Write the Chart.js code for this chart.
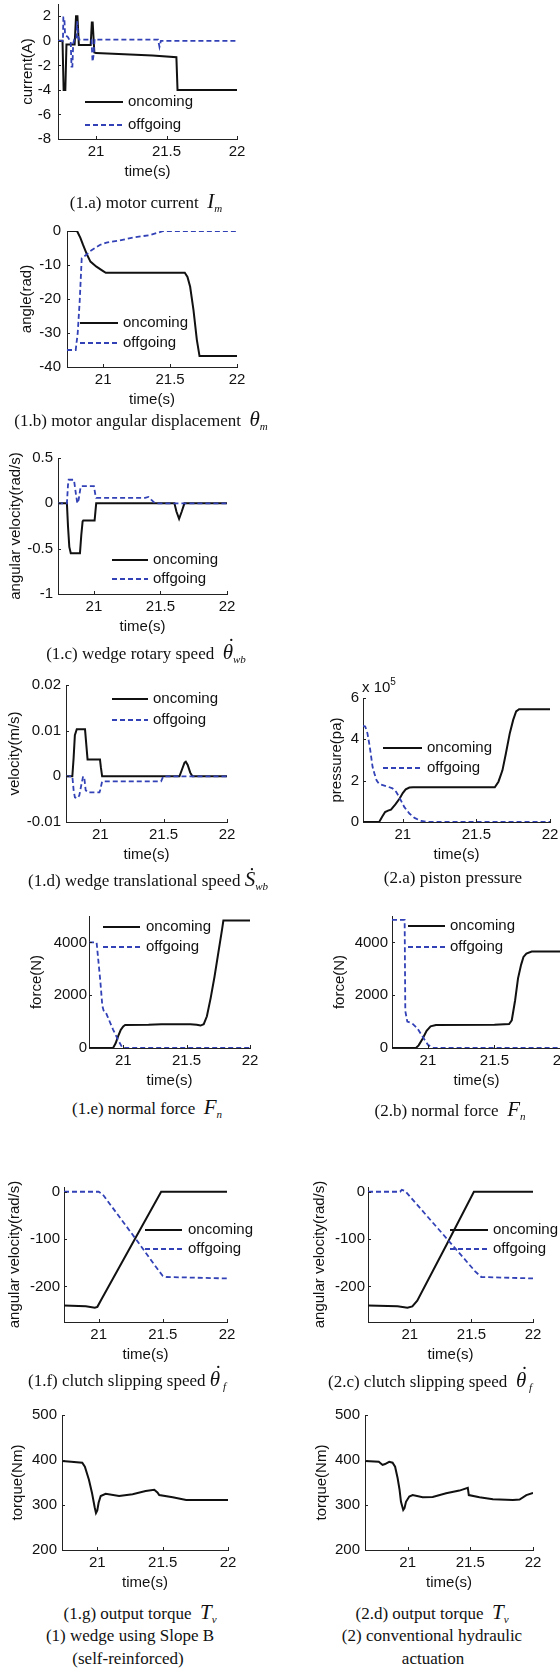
<!DOCTYPE html>
<html>
<head>
<meta charset="utf-8">
<script src="https://cdn.jsdelivr.net/npm/chart.js@4.4.1/dist/chart.umd.min.js"></script>
<style>
html, body { margin: 0; padding: 0; background: #fff; overflow: hidden; width: 560px; height: 1670px; }
#page { position: relative; width: 560px; height: 1670px; overflow: hidden; }
canvas { position: absolute; }
.cap { position: absolute; font-family: "Liberation Serif", "Times New Roman", serif; font-size: 17px; color: #111;
       white-space: nowrap; transform: translate(-50%, -50%); line-height: 1; }
.cap i { font-size: 21px; }
.cap sub { font-size: 11px; font-style: italic; vertical-align: -4px; }
.cap .dt { position: relative; display: inline-block; }
.cap .dt::after { content: "\02D9"; position: absolute; left: 0.24em; top: -0.3em; font-style: normal; }
.exp { position: absolute; font-family: "Liberation Sans", Arial, sans-serif; font-size: 15px; color: #111; white-space: nowrap; }
.exp sup { font-size: 10px; vertical-align: 7px; }
</style>
</head>
<body>
<div id="page"></div>
<script>
// ---- data (time in s) ----
const xTicks = [21, 21.5, 22];

// (1.a) motor current, A
const currentOn = [[20.73,0],[20.762,0],[20.77,-4],[20.782,-4],[20.79,-0.3],[20.848,-0.3],[20.858,2],[20.868,2],[20.878,-0.35],[20.962,-0.35],[20.97,1.5],[20.976,1.5],[20.988,-0.95],[21.0,-1.0],[21.2,-1.1],[21.4,-1.2],[21.57,-1.33],[21.578,-4],[22,-4]];
const currentOff = [[20.73,0],[20.765,0],[20.768,1.9],[20.775,1.9],[20.78,0.5],[20.8,0.3],[20.81,0.1],[20.82,0],[20.826,-2.1],[20.832,-2.1],[20.838,-0.2],[20.845,0.1],[20.86,0.1],[20.866,1.6],[20.872,0.4],[20.88,0.1],[20.968,0.1],[20.975,-1.7],[20.982,-1.2],[20.99,0.15],[21.0,0.1],[21.44,0.1],[21.45,-0.5],[21.46,0],[22,0]];
const currentTicks = [-8, -6, -4, -2, 0, 2];

// (1.b) motor angular displacement, rad
const angleOn = [[20.73,0],[20.805,0],[20.83,-2],[20.85,-4.1],[20.88,-7],[20.905,-9],[20.95,-10.5],[21.0,-11.8],[21.02,-12.3],[21.61,-12.3],[21.63,-13.5],[21.65,-16.4],[21.675,-23.3],[21.7,-32],[21.72,-36.8],[22,-36.8]];
const angleOff = [[20.73,-35],[20.795,-35],[20.81,-30],[20.825,-20.5],[20.84,-8],[20.875,-7],[20.9,-6],[20.975,-4.1],[21.025,-3.4],[21.125,-2.8],[21.225,-1.9],[21.35,-1.2],[21.45,0],[22,0]];
const angleTicks = [-40, -30, -20, -10, 0];

// (1.c) wedge rotary speed, rad/s
const rotOn = [[20.73,0],[20.797,0],[20.805,-0.25],[20.815,-0.48],[20.826,-0.55],[20.895,-0.55],[20.905,-0.35],[20.915,-0.2],[20.92,-0.19],[21.005,-0.19],[21.017,0],[21.605,0],[21.62,-0.09],[21.64,-0.17],[21.66,-0.09],[21.68,0],[22,0]];
const rotOff = [[20.73,0],[20.797,0],[20.805,0.2],[20.81,0.26],[20.85,0.26],[20.865,0.1],[20.875,0],[20.885,0.04],[20.9,0.18],[20.907,0.19],[21.0,0.19],[21.01,0.1],[21.017,0.06],[21.385,0.06],[21.41,0.07],[21.43,0.04],[21.46,0],[22,0]];
const rotTicks = [-1, -0.5, 0, 0.5];

// (1.d) wedge translational speed, m/s
const velOn = [[20.73,0],[20.78,0],[20.79,0.004],[20.8,0.009],[20.815,0.0103],[20.88,0.0103],[20.89,0.007],[20.9,0.0037],[20.998,0.0037],[21.005,0.002],[21.015,0],[21.625,0],[21.645,0.0015],[21.665,0.003],[21.675,0.0032],[21.69,0.0025],[21.71,0.0008],[21.727,0],[22,0]];
const velOff = [[20.73,0],[20.78,0],[20.79,-0.003],[20.8,-0.0046],[20.82,-0.0048],[20.835,-0.0042],[20.85,-0.002],[20.865,0],[20.875,-0.0005],[20.885,-0.003],[20.9,-0.0035],[20.994,-0.0035],[21.0,-0.003],[21.015,-0.0011],[21.48,-0.0011],[21.497,0],[22,0]];
const velTicks = [-0.01, 0, 0.01, 0.02];

// (2.a) piston pressure, x 10^5 Pa
const presOn = [[20.73,0],[20.84,0],[20.86,0.25],[20.88,0.48],[20.9,0.55],[20.92,0.6],[20.95,0.85],[20.98,1.15],[21.0,1.4],[21.02,1.58],[21.045,1.67],[21.07,1.68],[21.625,1.68],[21.65,1.95],[21.677,2.5],[21.7,3.3],[21.727,4.3],[21.75,4.94],[21.77,5.35],[21.79,5.46],[22,5.46]];
const presOff = [[20.73,4.65],[20.745,4.62],[20.76,4.3],[20.776,3.64],[20.795,2.67],[20.807,2.36],[20.823,2.0],[20.84,1.84],[20.886,1.74],[20.93,1.63],[20.955,1.46],[20.977,1.19],[21.01,0.73],[21.045,0.41],[21.08,0.2],[21.125,0.05],[21.16,0.01],[22,0.01]];
const presTicks = [0, 2, 4, 6];

// (1.e) normal force, N
const forceOn = [[20.73,0],[20.92,0],[20.94,180],[20.96,450],[20.98,680],[21.0,820],[21.015,870],[21.2,880],[21.3,900],[21.53,900],[21.58,880],[21.61,850],[21.635,900],[21.66,1200],[21.69,1900],[21.72,2700],[21.75,3600],[21.78,4500],[21.79,4830],[22,4830]];
const forceOff = [[20.73,4000],[20.79,4000],[20.8,3500],[20.82,2500],[20.835,1600],[20.845,1420],[20.86,1380],[20.88,1150],[20.92,700],[20.96,300],[20.99,40],[21.0,0],[22,0]];
// (2.b) normal force, N
const force2On = [[20.73,0],[20.91,0],[20.93,100],[20.96,350],[20.99,650],[21.02,820],[21.06,870],[21.5,880],[21.61,910],[21.63,1050],[21.655,1800],[21.677,2640],[21.7,3150],[21.718,3450],[21.74,3580],[21.78,3655],[22,3655]];
const force2Off = [[20.73,4850],[20.825,4850],[20.83,1400],[20.845,1000],[20.88,940],[20.92,750],[20.97,350],[21.0,120],[21.04,0],[22,0]];
const forceTicks = [0, 2000, 4000];

// (1.f) / (2.c) clutch slipping speed, rad/s
const slipOn = [[20.73,-240],[20.9,-242],[20.97,-245],[20.99,-243],[21.02,-228],[21.29,-96],[21.487,0],[22,0]];
const slipOff = [[20.73,0],[21.0,0],[21.03,-5],[21.29,-100],[21.45,-160],[21.5,-178],[21.53,-180],[22,-183]];
const slip2On = [[20.66,-240],[20.9,-242],[20.98,-245],[21.02,-242],[21.06,-230],[21.3,-111],[21.52,0],[22,0]];
const slip2Off = [[20.66,0],[20.92,0],[20.935,4],[20.96,2],[21.0,-10],[21.3,-99],[21.53,-168],[21.58,-180],[22,-183]];
const slipTicks = [-200, -100, 0];

// (1.g) / (2.d) output torque, Nm
const torqueOn = [[20.73,398],[20.8,396],[20.885,394],[20.905,385],[20.936,356],[20.96,326],[20.98,295],[20.99,282],[21.0,288],[21.01,305],[21.026,320],[21.064,325],[21.167,320],[21.27,324],[21.37,331],[21.436,334],[21.46,328],[21.474,322],[21.577,317],[21.68,311],[22,311]];
const torque2On = [[20.66,398],[20.77,396],[20.8,389],[20.82,391],[20.853,396],[20.88,394],[20.9,385],[20.92,360],[20.935,335],[20.947,307],[20.965,289],[20.975,293],[20.987,307],[21.013,319],[21.04,322],[21.12,317],[21.2,318],[21.307,326],[21.413,332],[21.48,338],[21.488,322],[21.573,317],[21.68,313],[21.84,311],[21.893,312],[21.947,322],[22,327]];
const torqueTicks = [200, 300, 400, 500];

// ---- drawing ----
Chart.defaults.font.family = '"Liberation Sans", Arial, sans-serif';
Chart.defaults.font.size = 15;
Chart.defaults.color = '#111';

const ON_COLOR = '#111111';
const OFF_COLOR = '#3242b6';
const PAD_TOP = 18, PAD_RIGHT = 45, XBOX = 45;
const page = document.getElementById('page');

function toXY(pairs) {
  return pairs.map(p => ({x: p[0], y: p[1]}));
}

// small inward tick marks like matlab
const innerTicks = {
  id: 'innerTicks',
  afterDraw(chart) {
    const ctx = chart.ctx;
    const area = chart.chartArea;
    const sx = chart.scales.x, sy = chart.scales.y;
    ctx.save();
    ctx.strokeStyle = '#222';
    ctx.lineWidth = 1;
    ctx.beginPath();
    sx.ticks.forEach(t => {
      const px = Math.round(sx.getPixelForValue(t.value)) + 0.5;
      ctx.moveTo(px, area.bottom);
      ctx.lineTo(px, area.bottom - 3);
    });
    sy.ticks.forEach(t => {
      const py = Math.round(sy.getPixelForValue(t.value)) + 0.5;
      ctx.moveTo(area.left, py);
      ctx.lineTo(area.left + 3, py);
    });
    ctx.stroke();
    ctx.restore();
  }
};

// legend drawn inside the plot, matlab style (no box)
function legendFor(lg, ox, oy) {
  return {
    id: 'panelLegend',
    afterDatasetsDraw(chart) {
      const ctx = chart.ctx;
      ctx.save();
      chart.data.datasets.forEach((ds, i) => {
        const y = lg.y[i] - oy;
        ctx.strokeStyle = ds.borderColor;
        ctx.lineWidth = ds.borderWidth;
        ctx.setLineDash(ds.borderDash || []);
        ctx.beginPath();
        ctx.moveTo(lg.x1 - ox, y);
        ctx.lineTo(lg.x2 - ox, y);
        ctx.stroke();
        ctx.setLineDash([]);
        ctx.fillStyle = '#111';
        ctx.font = '15px "Liberation Sans", Arial, sans-serif';
        ctx.textBaseline = 'middle';
        ctx.textAlign = 'left';
        ctx.fillText(ds.label, lg.tx - ox, y);
      });
      ctx.restore();
    }
  };
}

function makePanel(p) {
  const col = p.left < 280 ? 0 : 280;
  const w = p.right - col + PAD_RIGHT;
  const h = PAD_TOP + (p.bottom - p.top) + XBOX;
  const cv = document.createElement('canvas');
  cv.width = w;
  cv.height = h;
  cv.style.left = col + 'px';
  cv.style.top = (p.top - PAD_TOP) + 'px';
  page.appendChild(cv);

  const datasets = [{
    label: 'oncoming', data: toXY(p.on), borderColor: ON_COLOR, borderWidth: 2, order: 1
  }];
  if (p.off) {
    datasets.push({label: 'offgoing', data: toXY(p.off), borderColor: OFF_COLOR, borderWidth: 1.8, borderDash: [5, 3], order: 0});
  }

  const plugins = [innerTicks];
  if (p.legend) plugins.push(legendFor(p.legend, col, p.top - PAD_TOP));

  new Chart(cv, {
    type: 'line',
    data: {datasets: datasets},
    options: {
      responsive: false,
      animation: false,
      devicePixelRatio: 1,
      events: [],
      layout: {padding: {top: PAD_TOP, right: PAD_RIGHT, left: 0, bottom: 0}},
      elements: {point: {radius: 0}, line: {tension: 0, fill: false}},
      plugins: {legend: {display: false}, tooltip: {enabled: false}},
      scales: {
        x: {
          type: 'linear', min: p.xmin || 20.73, max: 22,
          afterBuildTicks: s => { s.ticks = xTicks.map(v => ({value: v})); },
          afterFit: s => { s.height = XBOX; },
          grid: {display: false, drawTicks: false},
          border: {display: true, color: '#222', width: 1},
          ticks: {padding: 4, autoSkip: false, maxRotation: 0, callback: v => String(v)},
          title: {display: true, text: 'time(s)', padding: {top: 0, bottom: 3}}
        },
        y: {
          type: 'linear', min: p.ymin, max: p.ymax,
          afterBuildTicks: s => { s.ticks = p.yTicks.map(v => ({value: v})); },
          afterFit: s => { s.width = p.left - col; },
          grid: {display: false, drawTicks: false},
          border: {display: true, color: '#222', width: 1},
          ticks: {padding: p.ytp, autoSkip: false, callback: v => String(v)},
          title: {display: true, text: p.yTitle, padding: {top: p.titleX - col - 9, bottom: 0}}
        }
      }
    },
    plugins: plugins
  });
}

const panels = [
  {left: 58, right: 237, top: 4, bottom: 139, ymin: -8, ymax: 3, yTicks: currentTicks, yTitle: 'current(A)', titleX: 28, ytp: 7,
   on: currentOn, off: currentOff, legend: {x1: 85, x2: 123, tx: 128, y: [102, 125]}},
  {left: 67, right: 237, top: 231, bottom: 367, ymin: -40, ymax: 0, yTicks: angleTicks, yTitle: 'angle(rad)', titleX: 27, ytp: 6,
   on: angleOn, off: angleOff, legend: {x1: 80, x2: 118, tx: 123, y: [323, 343]}},
  {left: 58, right: 227, top: 458, bottom: 594, ymin: -1, ymax: 0.5, yTicks: rotTicks, yTitle: 'angular velocity(rad/s)', titleX: 16, ytp: 5,
   on: rotOn, off: rotOff, legend: {x1: 112, x2: 148, tx: 153, y: [560, 579]}},
  {left: 66, right: 227, top: 685, bottom: 822, ymin: -0.01, ymax: 0.02, yTicks: velTicks, yTitle: 'velocity(m/s)', titleX: 15, ytp: 5,
   on: velOn, off: velOff, legend: {x1: 112, x2: 148, tx: 153, y: [699, 720]}},
  {left: 363, right: 550, top: 698, bottom: 822, ymin: 0, ymax: 6, yTicks: presTicks, yTitle: 'pressure(pa)', titleX: 337, ytp: 4,
   on: presOn, off: presOff, legend: {x1: 383, x2: 422, tx: 427, y: [748, 768]}},
  {left: 89, right: 250, top: 916, bottom: 1048, ymin: 0, ymax: 5000, yTicks: forceTicks, yTitle: 'force(N)', titleX: 37, ytp: 2,
   on: forceOn, off: forceOff, legend: {x1: 103, x2: 140, tx: 146, y: [927, 947]}},
  {left: 392, right: 561, top: 916, bottom: 1048, ymin: 0, ymax: 5000, yTicks: forceTicks, yTitle: 'force(N)', titleX: 340, ytp: 4,
   on: force2On, off: force2Off, legend: {x1: 408, x2: 445, tx: 450, y: [926, 947]}},
  {left: 64, right: 227, top: 1187, bottom: 1322, ymin: -275, ymax: 10, yTicks: slipTicks, yTitle: 'angular velocity(rad/s)', titleX: 15, ytp: 4,
   on: slipOn, off: slipOff, legend: {x1: 145, x2: 182, tx: 188, y: [1230, 1249]}},
  {left: 368, right: 533, top: 1187, bottom: 1322, xmin: 20.66, ymin: -275, ymax: 10, yTicks: slipTicks, yTitle: 'angular velocity(rad/s)', titleX: 320, ytp: 3,
   on: slip2On, off: slip2Off, legend: {x1: 450, x2: 488, tx: 493, y: [1230, 1249]}},
  {left: 62, right: 228, top: 1415, bottom: 1550, ymin: 200, ymax: 500, yTicks: torqueTicks, yTitle: 'torque(Nm)', titleX: 18, ytp: 5,
   on: torqueOn},
  {left: 365, right: 533, top: 1415, bottom: 1550, xmin: 20.66, ymin: 200, ymax: 500, yTicks: torqueTicks, yTitle: 'torque(Nm)', titleX: 322, ytp: 5,
   on: torque2On}
];
panels.forEach(makePanel);

// exponent label of the pressure axis
const exp = document.createElement('div');
exp.className = 'exp';
exp.style.left = '362px';
exp.style.top = '676px';
exp.innerHTML = 'x 10<sup>5</sup>';
page.appendChild(exp);

// captions under each panel
const captions = [
  [146, 202, '(1.a) motor current&nbsp; <i>I</i><sub>m</sub>'],
  [141, 420, '(1.b) motor angular displacement&nbsp; <i>θ</i><sub>m</sub>'],
  [146, 653, '(1.c) wedge rotary speed&nbsp; <i class="dt">θ</i><sub>wb</sub>'],
  [148, 880, '(1.d) wedge translational speed <i>Ṡ</i><sub>wb</sub>'],
  [453, 877, '(2.a) piston pressure'],
  [147, 1108, '(1.e) normal force&nbsp; <i>F</i><sub>n</sub>'],
  [450, 1110, '(2.b) normal force&nbsp; <i>F</i><sub>n</sub>'],
  [127, 1380, '(1.f) clutch slipping speed <i class="dt">θ</i><sub>&nbsp;f</sub>'],
  [430, 1381, '(2.c) clutch slipping speed&nbsp; <i class="dt">θ</i><sub>&nbsp;f</sub>'],
  [140, 1613, '(1.g) output torque&nbsp; <i>T</i><sub>v</sub>'],
  [432, 1613, '(2.d) output torque&nbsp; <i>T</i><sub>v</sub>'],
  [130, 1635, '(1) wedge using Slope B'],
  [128, 1658, '(self-reinforced)'],
  [432, 1635, '(2) conventional hydraulic'],
  [433, 1658, 'actuation']
];
captions.forEach(c => {
  const d = document.createElement('div');
  d.className = 'cap';
  d.style.left = c[0] + 'px';
  d.style.top = c[1] + 'px';
  d.innerHTML = c[2];
  page.appendChild(d);
});
</script>
</body>
</html>
